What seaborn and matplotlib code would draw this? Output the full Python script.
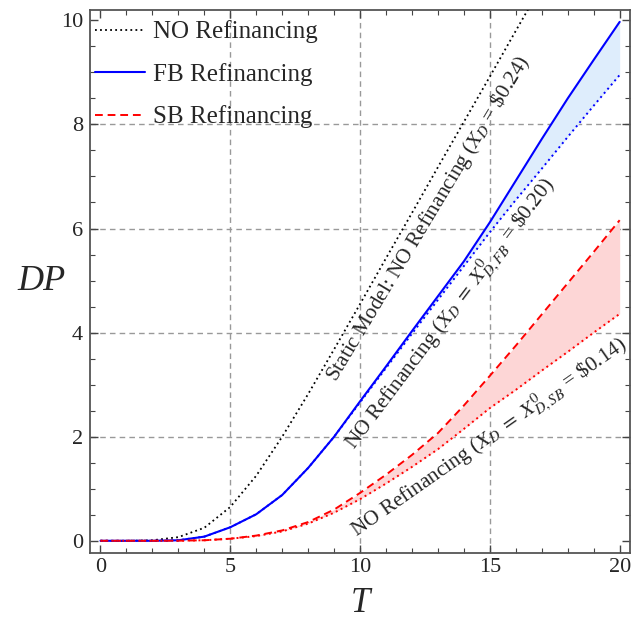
import numpy as np
import pandas as pd
import matplotlib
matplotlib.use("Agg")
import matplotlib.pyplot as plt
import seaborn as sns
from matplotlib.ticker import MultipleLocator

# ---- data ----
T = list(range(0, 21))
no_static = [0, 0, 0.01, 0.07, 0.25, 0.65, 1.25, 2.0, 2.82, 3.68, 4.55,
             5.43, 6.3, 7.18, 8.05, 8.92, 9.8, 10.67, 11.55, 12.4, 13.3]
fb_refi = [0, 0, 0, 0.01, 0.08, 0.26, 0.51, 0.88, 1.40, 2.0, 2.68,
           3.35, 4.03, 4.7, 5.37, 6.12, 6.92, 7.72, 8.5, 9.24, 9.97]
no_fb = [0, 0, 0, 0.01, 0.08, 0.26, 0.51, 0.88, 1.40, 2.0, 2.66,
         3.32, 3.98, 4.63, 5.28, 5.93, 6.55, 7.15, 7.76, 8.36, 8.95]
sb_refi = [0, 0, 0, 0.002, 0.01, 0.04, 0.1, 0.2, 0.36, 0.6, 0.92,
           1.27, 1.65, 2.07, 2.6, 3.17, 3.75, 4.35, 4.95, 5.55, 6.16]
no_sb = [0, 0, 0, 0.002, 0.01, 0.04, 0.09, 0.18, 0.33, 0.54, 0.8,
         1.1, 1.42, 1.76, 2.15, 2.55, 2.9, 3.27, 3.63, 4.0, 4.36]

legend_labels = ["NO Refinancing", "FB Refinancing", "SB Refinancing"]
ann_static = r"Static Model: NO Refinancing ($X_D$ = \$0.24)"
ann_fb = r"NO Refinancing ($X_D \;=\; X^0_{D,FB}$ = \$0.20)"
ann_sb = r"NO Refinancing ($X_D \;=\; X^0_{D,SB}$ = \$0.14)"
x_ticks = [0, 5, 10, 15, 20]
y_ticks = [0, 2, 4, 6, 8, 10]

df = pd.DataFrame({"T": T, "no_static": no_static, "fb": fb_refi, "no_fb": no_fb,
                   "sb": sb_refi, "no_sb": no_sb})

sns.set_style("ticks")
plt.rcParams["font.family"] = ["Liberation Serif", "DejaVu Serif"]
plt.rcParams["mathtext.fontset"] = "stix"

fig = plt.figure(figsize=(6.39, 6.19), dpi=100)
ax = fig.add_axes([0.141, 0.107, 0.845, 0.877])

blue = "#0000ff"
red = "#ff0000"

ax.fill_between(df["T"], df["no_fb"], df["fb"], color="#deedfc", lw=0, zorder=1)
ax.fill_between(df["T"], df["no_sb"], df["sb"], color="#fdd6d6", lw=0, zorder=1)

sns.lineplot(data=df, x="T", y="no_static", ax=ax, color="black", lw=1.3,
             linestyle=(0, (1, 1.8)), label=legend_labels[0], zorder=3)
sns.lineplot(data=df, x="T", y="fb", ax=ax, color=blue, lw=1.5,
             linestyle="-", label=legend_labels[1], zorder=3)
sns.lineplot(data=df, x="T", y="sb", ax=ax, color=red, lw=1.4,
             linestyle=(0, (4, 2.5)), label=legend_labels[2], zorder=3)
sns.lineplot(data=df, x="T", y="no_fb", ax=ax, color=blue, lw=1.4,
             linestyle=(0, (1, 1.8)), zorder=3, legend=False)
sns.lineplot(data=df, x="T", y="no_sb", ax=ax, color=red, lw=1.4,
             linestyle=(0, (1, 1.8)), zorder=3, legend=False)

ax.set_xlim(-0.4, 20.4)
ax.set_ylim(-0.23, 10.2)
ax.set_xticks(x_ticks)
ax.set_yticks(y_ticks)
ax.xaxis.set_minor_locator(MultipleLocator(1))
ax.yaxis.set_minor_locator(MultipleLocator(0.5))
ax.tick_params(which="both", direction="in", top=True, right=True,
               labelsize=16, color="#444444")
ax.tick_params(axis="x", which="major", pad=4)
ax.tick_params(axis="y", which="major", pad=5)
ax.tick_params(which="major", length=6, width=1)
ax.tick_params(which="minor", length=3.5, width=0.8)
for s in ax.spines.values():
    s.set_color("#555555")
    s.set_linewidth(1.3)

for v in [5, 10, 15]:
    ax.axvline(v, color="#999999", lw=1, ls=(0, (4, 3)), zorder=0)
for v in [2, 4, 6, 8]:
    ax.axhline(v, color="#999999", lw=1, ls=(0, (4, 3)), zorder=0)

ax.set_xlabel("T", fontsize=25, style="italic", labelpad=7)
ax.set_ylabel("DP", fontsize=26, style="italic", rotation=0, labelpad=14, va="center")

ax.text(12.6, 6.2, ann_static, fontsize=15.3, rotation=59, rotation_mode="anchor",
        ha="center", va="center", zorder=4)
ax.text(13.5, 4.35, ann_fb, fontsize=15.3, rotation=53, rotation_mode="anchor",
        ha="center", va="center", zorder=4)
ax.text(15.0, 1.97, ann_sb, fontsize=15.3, rotation=35, rotation_mode="anchor",
        ha="center", va="center", zorder=4)

leg = ax.legend(loc="upper left", bbox_to_anchor=(0, 0.99), frameon=False,
                fontsize=18, handlelength=2.0, labelspacing=0.78,
                borderaxespad=0.1, borderpad=0.1, handletextpad=0.3)

fig.savefig("out.png", dpi=100)
